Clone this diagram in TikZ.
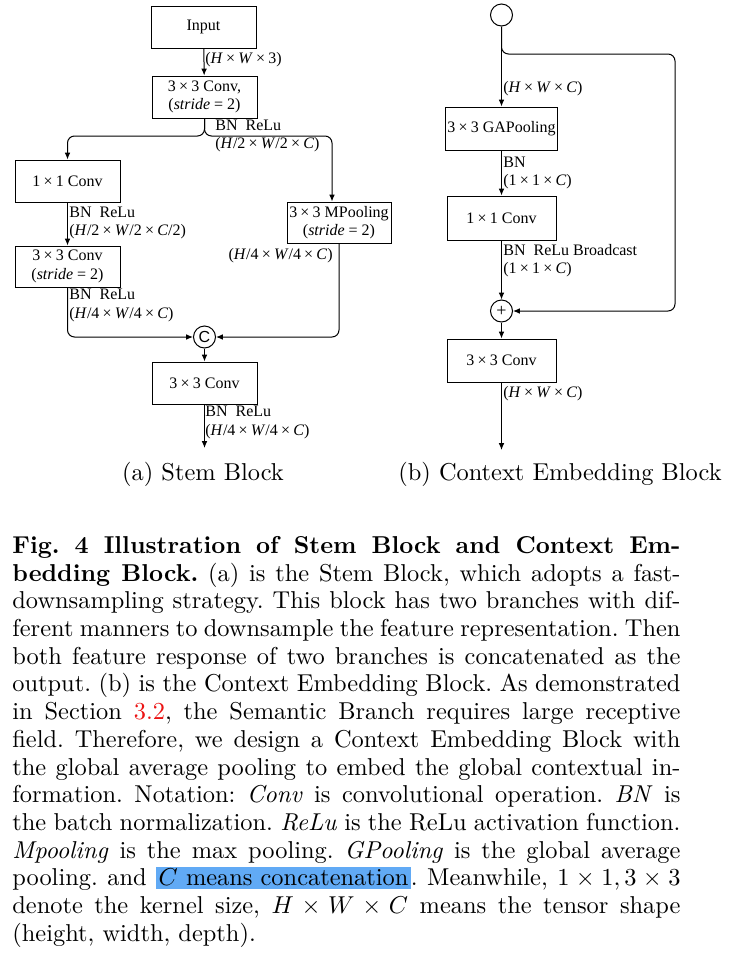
\documentclass[tikz,border=0pt]{standalone}
\usepackage{fontspec}
\usepackage{xcolor}
\usepackage{graphicx}
\usetikzlibrary{arrows.meta}
\newfontfamily\diagfont{Liberation Serif}
\newfontfamily\circfont{Liberation Sans}
\definecolor{hilite}{RGB}{97,170,245}
\definecolor{reflink}{RGB}{235,20,20}
\setlength{\fboxsep}{1pt}
\newcommand{\xmul}{\hspace{0.2em}×\hspace{0.2em}}
\newcommand{\capscale}[1]{\scalebox{1.22}{#1}}

\begin{document}
\begin{tikzpicture}[x=0.5pt,y=-0.5pt,
  blockbox/.style={draw, line width=0.5pt, minimum height=21pt, inner sep=1pt, align=center, font=\diagfont\fontsize{8}{9.2}\selectfont},
  opcirc/.style={draw, line width=0.5pt, circle, minimum size=11pt, inner sep=0pt},
  dimlbl/.style={inner sep=1pt, align=left, font=\diagfont\fontsize{8}{9.2}\selectfont},
  flow/.style={line width=0.5pt, rounded corners=3.5pt, -{Latex[length=3.4pt,width=2.8pt]}},
  subcap/.style={inner sep=0pt, font=\fontsize{10}{12}\selectfont}]
  \useasboundingbox (0,0) rectangle (730,954);

  % (a) stem block
  \node[blockbox, minimum width=52.5pt] (inp) at (203.5,27) {Input};
  \node[blockbox, minimum width=52.5pt] (cva) at (204.5,97) {3\xmul3 Conv,\\(\textit{stride} = 2)};
  \node[blockbox, minimum width=52.5pt] (cvb) at (67.5,181) {1\xmul1 Conv};
  \node[blockbox, minimum width=52.5pt, minimum height=20.5pt] (cvc) at (67.5,266.5) {3\xmul3 Conv\\(\textit{stride} = 2)};
  \node[blockbox, minimum width=52pt, minimum height=20.5pt] (mpl) at (339,222.5) {3\xmul3 MPooling\\(\textit{stride} = 2)};
  \node[opcirc, font=\circfont\fontsize{8}{8}\selectfont] (cat) at (204.5,337) {C};
  \node[blockbox, minimum width=52.5pt] (cvd) at (204.5,383) {3\xmul3 Conv};
  \coordinate (fork) at (204.5,136);
  \coordinate (sout) at (204.5,448);

  \draw[flow] (inp) -- (cva);
  \draw[flow] (cva.south) -- (fork) -| (cvb.north);
  \draw[flow] (cva.south) -- (fork) -| ([xshift=-3.5pt]mpl.north);
  \draw[flow] (cvb) -- (cvc);
  \draw[flow] (cvc.south) |- (cat.west);
  \draw[flow] (mpl.south) |- (cat.east);
  \draw[flow] (cat) -- (cvd);
  \draw[flow] (cvd.south) -- (sout);

  \node[dimlbl, anchor=west] (la) at (203,60) {(\textit{H}\xmul\textit{W}\xmul3)};
  \node[dimlbl, anchor=west] (lb) at (213,136) {BN\ \ ReLu\\(\textit{H}/2\xmul\textit{W}/2\xmul\textit{C})};
  \node[dimlbl, anchor=west] (lc) at (67,223) {BN\ \ ReLu\\(\textit{H}/2\xmul\textit{W}/2\xmul\textit{C}/2)};
  \node[dimlbl, anchor=west] (ld) at (67,305.5) {BN\ \ ReLu\\(\textit{H}/4\xmul\textit{W}/4\xmul\textit{C})};
  \node[dimlbl, anchor=east] (le) at (335,256) {(\textit{H}/4\xmul\textit{W}/4\xmul\textit{C})};
  \node[dimlbl, anchor=west] (lf) at (203,422.5) {BN\ \ ReLu\\(\textit{H}/4\xmul\textit{W}/4\xmul\textit{C})};

  % (b) context embedding block
  \node[opcirc] (src) at (501.5,15) {};
  \node[blockbox, minimum width=54.5pt, minimum height=21.5pt] (gap) at (501.5,128.5) {3\xmul3 GAPooling};
  \node[blockbox, minimum width=54.5pt, minimum height=22pt] (cve) at (501.5,218) {1\xmul1 Conv};
  \node[opcirc, font=\diagfont\fontsize{9}{9}\selectfont] (sum) at (501.5,311) {+};
  \node[blockbox, minimum width=54.5pt, minimum height=21.5pt] (cvf) at (501.5,360.5) {3\xmul3 Conv};
  \coordinate (skip) at (501.5,54);
  \coordinate (skipr) at (675,54);
  \coordinate (cout) at (501.5,450);

  \draw[flow] (src) -- (gap);
  \draw[flow] (src.south) -- (skip) -- (skipr) |- (sum.east);
  \draw[flow] (gap) -- (cve);
  \draw[flow] (cve) -- (sum);
  \draw[flow] (sum) -- (cvf);
  \draw[flow] (cvf.south) -- (cout);

  \node[dimlbl, anchor=west] (ra) at (501,89) {(\textit{H}\xmul\textit{W}\xmul\textit{C})};
  \node[dimlbl, anchor=west] (rb) at (501,173) {BN\\(1\xmul1\xmul\textit{C})};
  \node[dimlbl, anchor=west] (rc) at (501,260.5) {BN\ \ ReLu Broadcast\\(1\xmul1\xmul\textit{C})};
  \node[dimlbl, anchor=west] (rd) at (501,394) {(\textit{H}\xmul\textit{W}\xmul\textit{C})};

  \node[subcap] (capa) at (203,474) {\capscale{(a) Stem Block}};
  \node[subcap] (capb) at (560,474) {\capscale{(b) Context Embedding Block}};

  % caption
  \node[anchor=north west, inner sep=0pt] (fig) at (12,536) {\capscale{\parbox[t]{273.8pt}{%
    \fontsize{10}{11.35}\selectfont\frenchspacing
    \textbf{Fig. 4 Illustration of Stem Block and Context Em-\linebreak
    bedding Block.} (a) is the Stem Block, which adopts a fast-\linebreak
    downsampling strategy. This block has two branches with dif-\linebreak
    ferent manners to downsample the feature representation. Then\linebreak
    both feature response of two branches is concatenated as the\linebreak
    output. (b) is the Context Embedding Block. As demonstrated\linebreak
    in Section \textcolor{reflink}{3.2}, the Semantic Branch requires large receptive\linebreak
    field. Therefore, we design a Context Embedding Block with\linebreak
    the global average pooling to embed the global contextual in-\linebreak
    formation. Notation: \textit{Conv} is convolutional operation. \textit{BN} is\linebreak
    the batch normalization. \textit{ReLu} is the ReLu activation function.\linebreak
    \textit{Mpooling} is the max pooling. \textit{GPooling} is the global average\linebreak
    pooling. and \colorbox{hilite}{$C$ means concatenation}. Meanwhile, $1\times1,3\times3$\linebreak
    denote the kernel size, $H\times W\times C$ means the tensor shape\linebreak
    (height, width, depth).}}};
\end{tikzpicture}
\end{document}
